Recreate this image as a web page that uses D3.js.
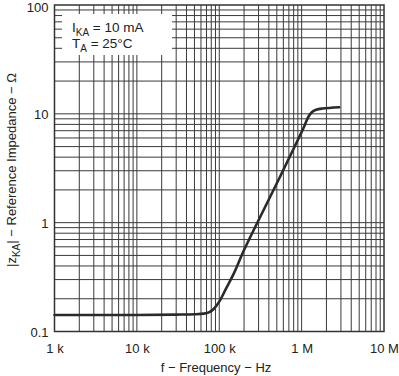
<!DOCTYPE html>
<html><head><meta charset="utf-8">
<script src="https://cdn.jsdelivr.net/npm/d3@7"></script>
<style>body{margin:0;background:#fff}svg{display:block}text{font-family:"Liberation Sans",Arial,Helvetica,sans-serif;fill:#222}</style>
</head><body>
<svg id="c" width="399" height="376"></svg>
<script>
const freqHz = [1e3, 1e4, 3e4, 5e4, 6.5e4, 7.5e4, 8.5e4, 1e5, 1.2e5, 1.5e5, 2e5, 5e5, 1e6, 1.1e6, 1.2e6, 1.32e6, 1.5e6, 1.8e6, 2.86e6];
const zOhm   = [0.142, 0.142, 0.143, 0.144, 0.146, 0.150, 0.160, 0.188, 0.245, 0.34, 0.56, 2.3, 6.8, 8.0, 9.3, 10.3, 10.9, 11.2, 11.5];
const xTickValues = [1e3, 1e4, 1e5, 1e6, 1e7];
const xTickLabels = ["1 k", "10 k", "100 k", "1 M", "10 M"];
const yTickValues = [0.1, 1, 10, 100];
const yTickLabels = ["0.1", "1", "10", "100"];

const svg = d3.select("#c");
const L = 54.5, R = 384, T = 5, B = 331.5;
const x = d3.scaleLog().domain([1e3, 1e7]).range([L, R]);
const y = d3.scaleLog().domain([0.1, 100]).range([B, T]);

const xGrid = [], yGrid = [];
for (let d = 1e3; d < 1e7; d *= 10) for (let m = 1; m < 10; m++) xGrid.push(d * m);
for (let d = 0.1; d < 100; d *= 10) for (let m = 1; m < 10; m++) yGrid.push(+(d * m).toPrecision(3));

const g = svg.append("g");
g.selectAll(".vx").data(xGrid).join("line")
  .attr("x1", d => x(d)).attr("x2", d => x(d)).attr("y1", T).attr("y2", B)
  .attr("stroke", "#3a3a3a").attr("stroke-width", 1);
g.selectAll(".hy").data(yGrid).join("line")
  .attr("y1", d => y(d)).attr("y2", d => y(d)).attr("x1", L).attr("x2", R)
  .attr("stroke", "#3a3a3a").attr("stroke-width", 1);

svg.append("rect").attr("x", 62).attr("y", 14).attr("width", 110).attr("height", 41).attr("fill", "#fff");
const t1 = svg.append("text").attr("x", 72).attr("y", 32).attr("font-size", 13.5);
t1.append("tspan").text("I");
t1.append("tspan").attr("font-size", 10).attr("dy", 4).text("KA");
t1.append("tspan").attr("dy", -4).text(" = 10 mA");
const t2 = svg.append("text").attr("x", 72).attr("y", 48).attr("font-size", 13.5);
t2.append("tspan").text("T");
t2.append("tspan").attr("font-size", 10).attr("dy", 4).text("A");
t2.append("tspan").attr("dy", -4).text(" = 25°C");

svg.append("rect").attr("x", L).attr("y", T).attr("width", R - L).attr("height", B - T)
  .attr("fill", "none").attr("stroke", "#333").attr("stroke-width", 1.5);

const pts = freqHz.map((f, i) => [f, zOhm[i]]);
svg.append("path").datum(pts)
  .attr("d", d3.line().x(d => x(d[0])).y(d => y(d[1])).curve(d3.curveCatmullRom.alpha(0.5)))
  .attr("fill", "none").attr("stroke", "#2a2a2a").attr("stroke-width", 2.6)
  .attr("stroke-linejoin", "round").attr("stroke-linecap", "round");

const xAxis = d3.axisBottom(x).tickValues(xTickValues).tickSize(0).tickPadding(0)
  .tickFormat((d, i) => xTickLabels[i]);
const xa = svg.append("g").attr("transform", `translate(0,${B})`).call(xAxis);
xa.select(".domain").remove();
xa.selectAll("text").attr("font-size", 13).attr("dy", null).attr("y", 21)
  .attr("font-family", "Liberation Sans, Arial, sans-serif").attr("fill", "#222");

const yAxis = d3.axisLeft(y).tickValues(yTickValues).tickSize(0).tickPadding(0)
  .tickFormat((d, i) => yTickLabels[i]);
const ya = svg.append("g").attr("transform", `translate(${L - 6},0)`).call(yAxis);
ya.select(".domain").remove();
ya.selectAll("text").attr("font-size", 13).attr("x", 0).attr("dy", "0.35em")
  .attr("font-family", "Liberation Sans, Arial, sans-serif").attr("fill", "#222");
ya.selectAll(".tick").filter(d => d === 100).select("text").attr("dy", "0.5em");

svg.append("text").attr("x", 216).attr("y", 372).attr("text-anchor", "middle").attr("font-size", 13)
  .text("f − Frequency − Hz");
const yt = svg.append("text").attr("transform", "translate(16,170) rotate(-90)")
  .attr("text-anchor", "middle").attr("font-size", 13);
yt.append("tspan").text("|z");
yt.append("tspan").attr("font-size", 10).attr("dy", 4).text("KA");
yt.append("tspan").attr("dy", -4).text("| − Reference Impedance − Ω");
</script>
</body></html>
